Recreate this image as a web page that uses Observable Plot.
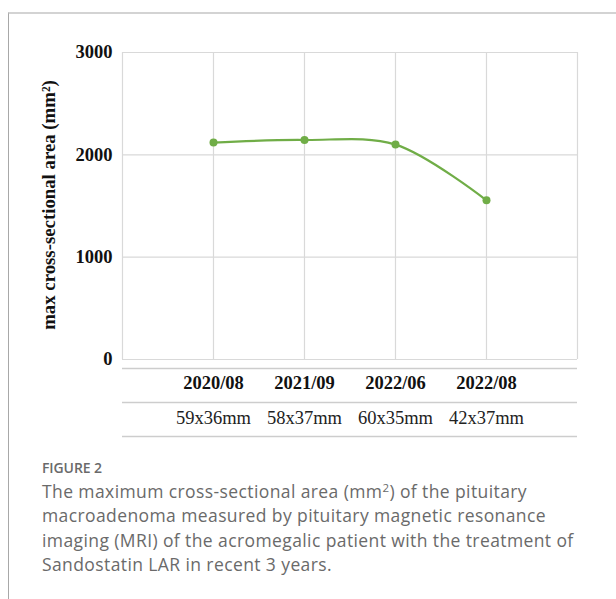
<!DOCTYPE html>
<html>
<head>
<meta charset="utf-8">
<script src="https://cdn.jsdelivr.net/npm/d3@7"></script>
<script src="https://cdn.jsdelivr.net/npm/@observablehq/plot@0.6"></script>
<style>
  html, body { margin: 0; padding: 0; background: #fff; }
  #page { position: relative; width: 616px; height: 599px; overflow: hidden; }
  #frame { position: absolute; left: 8px; top: 12px; width: 610px; height: 600px;
           border-top: 2px solid #d3d3d3; border-left: 1px solid #a8a8a8; }
  #chart { position: absolute; left: 0; top: 0; }
  #fig { position: absolute; left: 42px; top: 458px; font-family: "Open Sans", sans-serif;
         font-weight: 600; font-size: 14px; color: #6a6a6a; letter-spacing: -0.1px; }
  #cap { position: absolute; left: 42px; top: 479px; font-family: "Open Sans", sans-serif;
         font-size: 17.5px; letter-spacing: 0.4px; line-height: 24.3px; color: #6a6a6a; white-space: nowrap; }
  #cap sup { font-size: 11.5px; line-height: 0; vertical-align: 6px; }
</style>
</head>
<body>
<div id="page">
  <div id="frame"></div>
  <div id="chart"></div>
  <div id="fig">FIGURE 2</div>
  <div id="cap">The maximum cross-sectional area (mm<sup>2</sup>) of the pituitary<br>macroadenoma measured by pituitary magnetic resonance<br>imaging (MRI) of the acromegalic patient with the treatment of<br>Sandostatin LAR in recent 3 years.</div>
</div>
<script>
const dates = ["2020/08", "2021/09", "2022/06", "2022/08"];
const sizes = ["59x36mm", "58x37mm", "60x35mm", "42x37mm"];
const areas = [2120, 2145, 2100, 1555];
const yTicks = [0, 1000, 2000, 3000];
const yTitle = "max cross-sectional area (mm\u00B2)";

const data = dates.map((d, i) => ({pos: i + 1, date: d, size: sizes[i], area: areas[i]}));
const green = "#70ad47";
const serif = "'Liberation Serif', 'Times New Roman', serif";

const chart = Plot.plot({
  width: 616,
  height: 445,
  marginTop: 52,
  marginLeft: 122,
  marginRight: 39,
  marginBottom: 86,
  style: {fontFamily: serif, background: "transparent"},
  x: {domain: [0, 5], axis: null},
  y: {domain: [0, 3000], axis: null},
  marks: [
    Plot.ruleX(d3.range(0, 6), {stroke: "#d9d9d9", strokeWidth: 1.2, strokeOpacity: 1}),
    Plot.ruleY(yTicks, {stroke: "#d9d9d9", strokeWidth: 1.2, strokeOpacity: 1}),
    Plot.ruleY([0], {dy: 9, stroke: "#cdcdcd", strokeWidth: 1.6}),
    Plot.ruleY([0], {dy: 43, stroke: "#cdcdcd", strokeWidth: 1.6}),
    Plot.ruleY([0], {dy: 77, stroke: "#cdcdcd", strokeWidth: 1.6}),
    Plot.axisY({ticks: yTicks, tickSize: 0, tickPadding: 10, label: null,
      fontSize: 18.5, fontWeight: "bold", fill: "#111", tickFormat: d => String(d)}),
    Plot.axisX({ticks: data.map(d => d.pos), tickSize: 0, tickPadding: 16, label: null,
      tickFormat: p => dates[p - 1], fontSize: 18.5, fontWeight: "bold", fill: "#111"}),
    Plot.axisX({ticks: data.map(d => d.pos), tickSize: 0, tickPadding: 51, label: null,
      tickFormat: p => sizes[p - 1], fontSize: 18.5, fill: "#222"}),
    Plot.text([yTitle], {frameAnchor: "left", dx: -74, dy: -1, rotate: -90, text: d => d,
      fontSize: 18.8, fontWeight: "bold", fill: "#111", textAnchor: "middle", lineAnchor: "middle"}),
    Plot.line(data, {x: "pos", y: "area", stroke: green, strokeWidth: 2.2, curve: "catmull-rom"}),
    Plot.dot(data, {x: "pos", y: "area", r: 4, fill: green, stroke: "none"})
  ]
});
document.getElementById("chart").appendChild(chart);
</script>
</body>
</html>
